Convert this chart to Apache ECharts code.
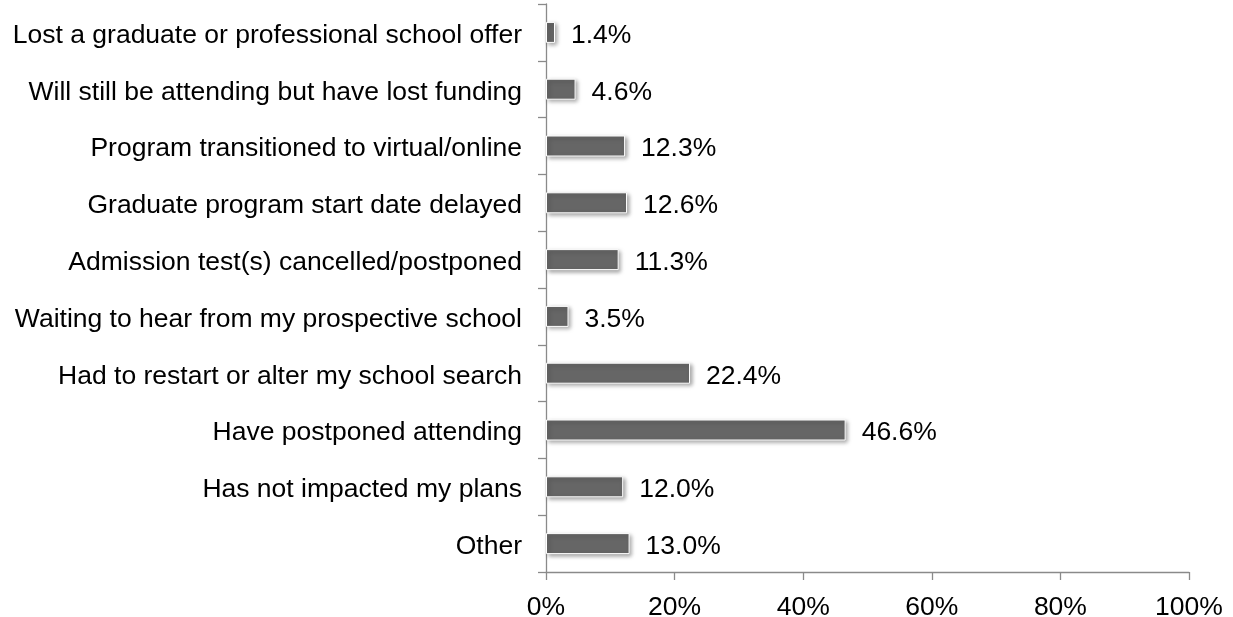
<!DOCTYPE html>
<html><head><meta charset="utf-8">
<script src="https://cdn.jsdelivr.net/npm/echarts@6/dist/echarts.min.js"></script>
<style>html,body{margin:0;padding:0;background:#fff}#c{width:1233px;height:617px}</style>
</head><body><div id="c"></div>
<script>
const categories = [
  "Lost a graduate or professional school offer",
  "Will still be attending but have lost funding",
  "Program transitioned to virtual/online",
  "Graduate program start date delayed",
  "Admission test(s) cancelled/postponed",
  "Waiting to hear from my prospective school",
  "Had to restart or alter my school search",
  "Have postponed attending",
  "Has not impacted my plans",
  "Other"
];
const values = [1.4, 4.6, 12.3, 12.6, 11.3, 3.5, 22.4, 46.6, 12.0, 13.0];
const xTicks = [0, 20, 40, 60, 80, 100];

const chart = echarts.init(document.getElementById('c'), null, {renderer: 'canvas'});
const font = 'Liberation Sans, Arial, sans-serif';
const fs = 26.5;
const richShift = {s: {fontSize: fs, fontFamily: font, color: '#000', padding: [6, 0, 0, 0]}};
chart.setOption({
  animation: false,
  grid: {left: 546, right: 44, top: 4, bottom: 45, containLabel: false, outerBoundsMode: 'none'},
  xAxis: {
    type: 'value', min: xTicks[0], max: xTicks[xTicks.length-1], interval: 20,
    axisLine: {show: true, lineStyle: {color: '#8a8a8a', width: 1.3}},
    axisTick: {show: true, length: 8, lineStyle: {color: '#8a8a8a', width: 1.3}},
    splitLine: {show: false},
    axisLabel: {formatter: v => v + '%', color: '#000', fontSize: fs, fontFamily: font, margin: 22}
  },
  yAxis: {
    type: 'category', data: categories, inverse: true,
    axisLine: {show: true, lineStyle: {color: '#8a8a8a', width: 1.3}},
    axisTick: {show: true, length: 8, lineStyle: {color: '#8a8a8a', width: 1.3}},
    axisLabel: {color: '#000', fontSize: fs, fontFamily: font, margin: 24,
      formatter: v => '{s|' + v + '}', rich: richShift}
  },
  series: [{
    type: 'bar', data: values, barWidth: 21,
    itemStyle: {color: '#666666', borderColor: '#ffffff', borderWidth: 1,
      shadowColor: 'rgba(0,0,0,0.35)', shadowBlur: 4, shadowOffsetX: 2, shadowOffsetY: 2},
    label: {show: true, position: 'right', distance: 16,
      formatter: p => '{s|' + p.value.toFixed(1) + '%}', rich: richShift,
      color: '#000', fontSize: fs, fontFamily: font}
  }]
});
</script></body></html>
